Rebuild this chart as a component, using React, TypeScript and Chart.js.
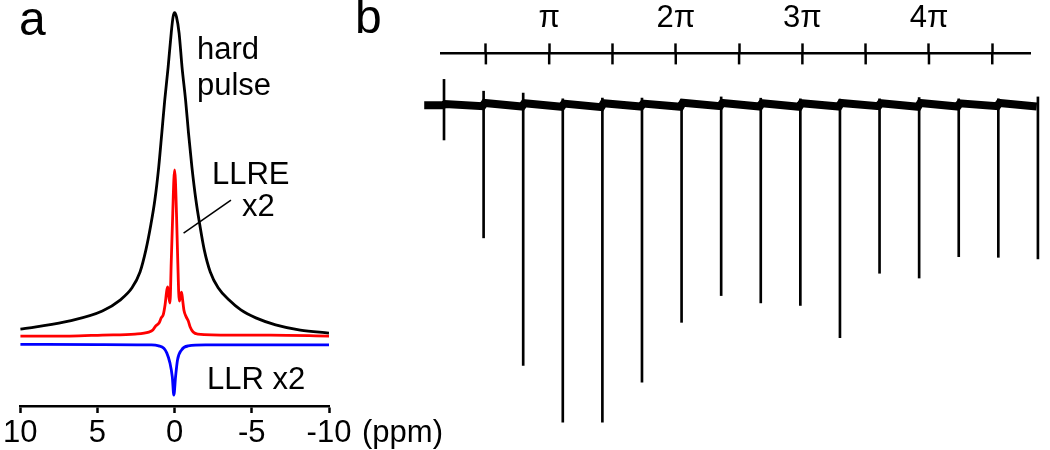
import React, { useEffect, useRef } from 'react';
import { Chart, registerables } from 'chart.js';

Chart.register(...registerables);

const FONT = '"Liberation Sans", Arial, Helvetica, sans-serif';

// ---------- Panel a : spectra (ppm vs intensity, arbitrary units) ----------
const ppmTicks = [10, 5, 0, -5, -10];

const hardPpm = [10, 8.97, 6.79, 4.68, 3.53, 2.76, 2.24, 1.86, 1.54, 1.28, 1.03, 0.83, 0.64, 0.42, 0.22, 0.1, 0,
  -0.12, -0.29, -0.48, -0.71, -0.9, -1.12, -1.38, -1.63, -1.92, -2.31, -2.82, -3.53, -4.29, -5.26, -6.54, -8.14, -10];
const hardIntensity = [4.8, 5.5, 7.3, 10.3, 13.6, 17.3, 22.1, 28.8, 36.4, 43.9, 53.9, 64.2, 74.2, 84.2, 94.5, 99.4, 100.7,
  99.4, 94.5, 84.2, 74.2, 64.2, 53.9, 43.9, 36.4, 28.8, 22.1, 17.3, 13.6, 10.6, 8.2, 6.1, 4.5, 3.6];

const llrePpm = [10, 6.79, 4.68, 2.56, 1.67, 1.41, 1.22, 1.0, 0.87, 0.74, 0.62, 0.5, 0.44, 0.37, 0.3, 0.22, 0.12, 0.05, 0,
  -0.05, -0.12, -0.2, -0.3, -0.37, -0.45, -0.52, -0.6, -0.75, -0.88, -1.0, -1.2, -1.5, -3.65, -6.22, -10];
const llreIntensity = [2.7, 2.7, 3.0, 3.3, 3.9, 4.5, 5.8, 6.7, 8.2, 9.1, 12.1, 16.7, 17.6, 14.5, 12.7, 25, 40, 50, 53,
  50, 40, 26, 13.3, 14.2, 16.0, 13.6, 10.6, 8.5, 7.3, 5.5, 3.9, 3.3, 3.0, 3.0, 2.7];

const llrPpm = [10, 5, 1.5, 1.03, 0.7, 0.51, 0.3, 0.15, 0.05, -0.06, -0.19, -0.45, -0.88, -2, -10];
const llrIntensity = [0.2, 0.1, 0.0, -0.3, -1.0, -2.4, -5.5, -9.7, -15.2, -9.7, -4.5, -1.5, -0.3, 0.0, 0.0];

const leaderPpm = [-3.65, -0.58];
const leaderIntensity = [43.9, 33.9];

// ---------- Panel b : pulse train (pulse number vs signal) ----------
const pulseIndex = [1, 2, 3, 4, 5, 6, 7, 8, 9, 10, 11, 12, 13, 14, 15, 16];
const pulseDepth = [-10.9, -41.6, -81.6, -99.4, -99.4, -86.9, -68.1, -59.7, -62.0, -62.8, -72.9, -52.7, -54.2, -47.5, -47.7, -48.2];
const pulseOvershoot = [8.1, 4.4, 3.8, 2.0, 2.2, 2.2, 1.8, 2.6, 2.2, 2.0, 1.9, 2.0, 2.4, 2.0, 2.0, 2.6];
const segStartLevel = [0.0, 0.4, 0.7, 0.6, 0.5, 0.6, 0.5, 0.8, 0.7, 0.6, 0.6, 0.7, 0.6, 0.7, 0.6, 0.7, 0.5];
const segEndLevel = [0.0, -0.3, -0.4, -0.5, -0.6, -0.4, -0.5, -0.3, -0.4, -0.5, -0.4, -0.3, -0.5, -0.4, -0.3, -0.4, 0.3];
const traceStart = 0.5;
const traceEnd = 16.3;

// flip angle axis, in units of pi/2
const flipTicks = [1, 2, 3, 4, 5, 6, 7, 8, 9];
const flipLabels = ['', 'π', '', '2π', '', '3π', '', '4π', ''];

const toXY = (xs: number[], ys: number[]) => xs.map((x, i) => ({ x, y: ys[i] }));

function buildBaseline() {
  const pts: { x: number; y: number }[] = [];
  for (let j = 0; j < segStartLevel.length; j++) {
    const start = j === 0 ? traceStart : pulseIndex[j - 1] + 0.03;
    const end = j === segStartLevel.length - 1 ? traceEnd : pulseIndex[j] - 0.03;
    pts.push({ x: start, y: segStartLevel[j] });
    pts.push({ x: end, y: segEndLevel[j] });
  }
  return pts;
}

const aDecor = {
  id: 'aDecor',
  afterDraw(chart: any) {
    const { ctx, chartArea } = chart;
    const x = chart.scales.x;
    const y = chart.scales.y;
    ctx.save();
    ctx.fillStyle = '#000';
    ctx.textAlign = 'left';
    ctx.textBaseline = 'alphabetic';
    ctx.font = `48px ${FONT}`;
    ctx.fillText('a', 19, 35);
    ctx.font = `31px ${FONT}`;
    ctx.fillText('hard', 197, 59);
    ctx.fillText('pulse', 197, 95);
    ctx.fillText('LLRE', 212, 184);
    ctx.fillText('x2', 242, 216);
    ctx.fillText('LLR x2', 207, 389);
    ctx.textBaseline = 'middle';
    ctx.fillText('(ppm)', 362, chartArea.bottom + 7 + 3 + 34.1 / 2);
    ctx.strokeStyle = '#000';
    ctx.lineWidth = 1.5;
    ctx.beginPath();
    ctx.moveTo(x.getPixelForValue(leaderPpm[0]), y.getPixelForValue(leaderIntensity[0]));
    ctx.lineTo(x.getPixelForValue(leaderPpm[1]), y.getPixelForValue(leaderIntensity[1]));
    ctx.stroke();
    ctx.restore();
  },
};

const bDecor = {
  id: 'bDecor',
  afterDraw(chart: any) {
    const { ctx, chartArea } = chart;
    const sc = chart.scales.x2;
    ctx.save();
    ctx.strokeStyle = '#000';
    ctx.lineWidth = 2.5;
    sc.ticks.forEach((t: any) => {
      const px = sc.getPixelForValue(t.value);
      ctx.beginPath();
      ctx.moveTo(px, chartArea.top);
      ctx.lineTo(px, chartArea.top + 11);
      ctx.stroke();
    });
    ctx.fillStyle = '#000';
    ctx.textAlign = 'left';
    ctx.textBaseline = 'alphabetic';
    ctx.font = `48px ${FONT}`;
    ctx.fillText('b', 25, 41);
    ctx.restore();
  },
};

export default function App() {
  const aRef = useRef<HTMLCanvasElement>(null);
  const bRef = useRef<HTMLCanvasElement>(null);

  useEffect(() => {
    const lineDs = (data: any, color: string) => ({
      data,
      borderColor: color,
      backgroundColor: color,
      borderWidth: 2.8,
      pointRadius: 0,
      cubicInterpolationMode: 'monotone' as const,
      fill: false,
    });
    const chartA = new Chart(aRef.current as HTMLCanvasElement, {
      type: 'line',
      data: {
        datasets: [
          { label: 'hard pulse', ...lineDs(toXY(hardPpm, hardIntensity), '#000000') },
          { label: 'LLRE x2', ...lineDs(toXY(llrePpm, llreIntensity), '#ff0000') },
          { label: 'LLR x2', ...lineDs(toXY(llrPpm, llrIntensity), '#0000ff') },
        ],
      },
      options: {
        responsive: false,
        animation: false,
        events: [],
        layout: { padding: { left: 17, right: 131, top: 5, bottom: 16.9 } },
        plugins: { legend: { display: false }, tooltip: { enabled: false } },
        scales: {
          x: {
            type: 'linear',
            min: -10,
            max: 10,
            reverse: true,
            border: { display: true, color: '#000', width: 2.5 },
            grid: { drawOnChartArea: false, drawTicks: true, tickLength: 7, tickWidth: 2.5, tickColor: '#000' },
            ticks: {
              autoSkip: false,
              maxRotation: 0,
              padding: 3,
              color: '#000',
              font: { family: FONT, size: 31, lineHeight: 1.1 },
              callback: (v: any) => String(v),
            },
            afterBuildTicks: (axis: any) => {
              axis.ticks = ppmTicks.map((v) => ({ value: v }));
            },
          },
          y: { type: 'linear', display: false, min: -18.5, max: 103 },
        },
      },
      plugins: [aDecor],
    });

    const chartB = new Chart(bRef.current as HTMLCanvasElement, {
      type: 'bar',
      data: {
        datasets: [
          {
            type: 'bar',
            label: 'pulses',
            data: pulseIndex.map((t, i) => ({ x: t, y: [pulseOvershoot[i], pulseDepth[i]] })) as any,
            backgroundColor: '#000',
            borderWidth: 0,
            barThickness: 2,
            clip: false as any,
            xAxisID: 'x',
            yAxisID: 'y',
          } as any,
          {
            type: 'line',
            label: 'baseline',
            data: buildBaseline() as any,
            borderColor: '#000',
            borderWidth: 8,
            pointRadius: 0,
            tension: 0,
            clip: false as any,
            xAxisID: 'x',
            yAxisID: 'y',
          } as any,
        ],
      },
      options: {
        responsive: false,
        animation: false,
        events: [],
        layout: { padding: { left: 111, right: 20, top: 2, bottom: 12 } },
        plugins: { legend: { display: false }, tooltip: { enabled: false } },
        scales: {
          x: { type: 'linear', display: false, min: 0.924, max: 15.8, offset: false, grid: { offset: false } },
          x2: {
            type: 'linear',
            position: 'top',
            min: 0.291,
            max: 9.596,
            offset: false,
            border: { display: true, color: '#000', width: 2.5 },
            grid: { drawOnChartArea: false, drawTicks: true, tickLength: 10, tickWidth: 2.5, tickColor: '#000', offset: false },
            ticks: {
              autoSkip: false,
              maxRotation: 0,
              padding: 3,
              color: '#000',
              font: { family: FONT, size: 31, lineHeight: 1.4 },
              callback: (v: any) => {
                const k = flipTicks.indexOf(Number(v));
                return k >= 0 ? flipLabels[k] : '';
              },
            },
            afterBuildTicks: (axis: any) => {
              axis.ticks = flipTicks.map((v) => ({ value: v }));
            },
          },
          y: { type: 'linear', display: false, min: -105, max: 16.25 },
        },
      } as any,
      plugins: [bDecor],
    });

    return () => {
      chartA.destroy();
      chartB.destroy();
    };
  }, []);

  return (
    <div style={{ position: 'absolute', left: 0, top: 0, width: 1050, height: 450, overflow: 'hidden', background: '#fff' }}>
      <canvas ref={aRef} width={460} height={470} style={{ position: 'absolute', left: 0, top: 0 }} />
      <canvas ref={bRef} width={720} height={460} style={{ position: 'absolute', left: 330, top: -8 }} />
    </div>
  );
}
